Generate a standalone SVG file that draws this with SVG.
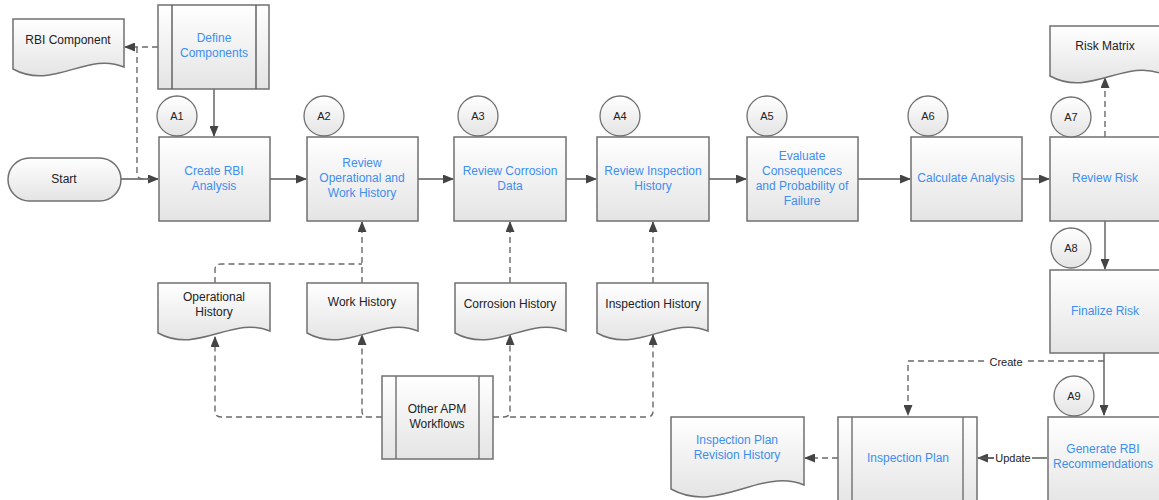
<svg xmlns="http://www.w3.org/2000/svg" width="1159" height="500" viewBox="0 0 1159 500">
<defs>
<linearGradient id="g" x1="0" y1="0" x2="0" y2="1"><stop offset="0" stop-color="#ffffff"/><stop offset="1" stop-color="#e4e4e4"/></linearGradient>
<marker id="ah" markerUnits="userSpaceOnUse" markerWidth="11" markerHeight="9" refX="10" refY="4.5" orient="auto"><path d="M0,0 L11,4.5 L0,9 z" fill="#444"/></marker>
</defs>
<style>
.s{fill:url(#g);stroke:#707070;stroke-width:1.5}
.c{fill:url(#g);stroke:#707070;stroke-width:1.3}
.t{font-family:"Liberation Sans",Arial,sans-serif;font-size:12px;text-anchor:middle;fill:#222}
.b{fill:#3d8ef0}
.ct{font-family:"Liberation Sans",Arial,sans-serif;font-size:11px;text-anchor:middle;fill:#222}
.l{fill:none;stroke:#5a5a5a;stroke-width:1.4}
.d{fill:none;stroke:#6a6a6a;stroke-width:1.4;stroke-dasharray:6,4}
.lb{font-family:"Liberation Sans",Arial,sans-serif;font-size:11px;text-anchor:middle;fill:#222}
</style>
<rect width="1159" height="500" fill="#ffffff"/>

<g id="connectors">
<path class="l" d="M121,179 H158" marker-end="url(#ah)"/>
<path class="d" d="M137,47 V173 Q137,179 143,179 H150"/>
<path class="d" d="M158,47 H125" marker-end="url(#ah)"/>
<path class="l" d="M214,89 V136" marker-end="url(#ah)"/>
<path class="l" d="M270,179 H306" marker-end="url(#ah)"/>
<path class="l" d="M418,179 H453" marker-end="url(#ah)"/>
<path class="l" d="M566,179 H596" marker-end="url(#ah)"/>
<path class="l" d="M709,179 H746" marker-end="url(#ah)"/>
<path class="l" d="M858,179 H910" marker-end="url(#ah)"/>
<path class="l" d="M1022,179 H1049" marker-end="url(#ah)"/>
<path class="d" d="M1105,137 V78" marker-end="url(#ah)"/>
<path class="l" d="M1105,221 V269" marker-end="url(#ah)"/>
<path class="l" d="M1104,353 V415" marker-end="url(#ah)"/>
<path class="d" d="M1104,361 H908 V415" marker-end="url(#ah)"/>
<path class="l" d="M1047,458 H978" marker-end="url(#ah)"/>
<path class="d" d="M838,458 H805" marker-end="url(#ah)"/>
<path class="d" d="M362,283 V222" marker-end="url(#ah)"/>
<path class="d" d="M215,283 V270 Q215,264 221,264 H362"/>
<path class="d" d="M510,283 V222" marker-end="url(#ah)"/>
<path class="d" d="M653,283 V222" marker-end="url(#ah)"/>
<path class="d" d="M382,417 H368 Q362,417 362,411 V335" marker-end="url(#ah)"/>
<path class="d" d="M362,417 H221 Q215,417 215,411 V337" marker-end="url(#ah)"/>
<path class="d" d="M493,417 H504 Q510,417 510,411 V335" marker-end="url(#ah)"/>
<path class="d" d="M510,417 H647 Q653,417 653,411 V335" marker-end="url(#ah)"/>
<rect x="988" y="355" width="36" height="13" fill="#fff"/>
<text class="lb" x="1006" y="365.5">Create</text>
<rect x="994" y="451" width="38" height="13" fill="#fff"/>
<text class="lb" x="1013" y="461.5">Update</text>
<path class="l" d="M994,458 H978"/>
</g>

<g id="start"><rect class="s" x="8" y="158" width="113" height="43" rx="21.5"/><text class="t" x="64" y="183">Start</text></g>

<g id="rbi-component"><path class="s" transform="translate(13,19)" d="M0,0 H111 V48 C74,32 40,72 0,50 Z"/><text class="t" x="68" y="44">RBI Component</text></g>

<g id="define-components"><rect class="s" x="158" y="5" width="111" height="84"/><path class="l" d="M172,5 V89 M256,5 V89" stroke="#707070"/><text class="t b" x="214" y="42">Define</text><text class="t b" x="214" y="57">Components</text></g>

<g id="create-rbi"><rect class="s" x="159" y="137" width="111" height="84"/><text class="t b" x="214" y="175">Create RBI</text><text class="t b" x="214" y="190">Analysis</text></g>
<g id="a1"><circle class="c" cx="177" cy="116" r="20"/><text class="ct" x="177" y="120">A1</text></g>

<g id="review-op"><rect class="s" x="307" y="137" width="111" height="84"/><text class="t b" x="362" y="167">Review</text><text class="t b" x="362" y="182">Operational and</text><text class="t b" x="362" y="197">Work History</text></g>
<g id="a2"><circle class="c" cx="324" cy="116" r="20"/><text class="ct" x="324" y="120">A2</text></g>

<g id="review-corrosion"><rect class="s" x="454" y="137" width="112" height="84"/><text class="t b" x="510" y="175">Review Corrosion</text><text class="t b" x="510" y="190">Data</text></g>
<g id="a3"><circle class="c" cx="478" cy="116" r="20"/><text class="ct" x="478" y="120">A3</text></g>

<g id="review-inspection"><rect class="s" x="597" y="137" width="112" height="84"/><text class="t b" x="653" y="175">Review Inspection</text><text class="t b" x="653" y="190">History</text></g>
<g id="a4"><circle class="c" cx="620" cy="116" r="20"/><text class="ct" x="620" y="120">A4</text></g>

<g id="evaluate"><rect class="s" x="747" y="137" width="111" height="84"/><text class="t b" x="802" y="160">Evaluate</text><text class="t b" x="802" y="175">Consequences</text><text class="t b" x="802" y="190">and Probability of</text><text class="t b" x="802" y="205">Failure</text></g>
<g id="a5"><circle class="c" cx="767" cy="116" r="20"/><text class="ct" x="767" y="120">A5</text></g>

<g id="calculate"><rect class="s" x="911" y="137" width="111" height="84"/><text class="t b" x="966" y="182">Calculate Analysis</text></g>
<g id="a6"><circle class="c" cx="928" cy="116" r="20"/><text class="ct" x="928" y="120">A6</text></g>

<g id="review-risk"><rect class="s" x="1050" y="137" width="112" height="84"/><text class="t b" x="1105" y="182">Review Risk</text></g>
<g id="a7"><circle class="c" cx="1071" cy="117" r="20"/><text class="ct" x="1071" y="121">A7</text></g>

<g id="risk-matrix"><path class="s" transform="translate(1050,26)" d="M0,0 H112 V48 C75,32 40,72 0,50 Z"/><text class="t" x="1105" y="50">Risk Matrix</text></g>

<g id="finalize-risk"><rect class="s" x="1050" y="270" width="112" height="83"/><text class="t b" x="1105" y="315">Finalize Risk</text></g>
<g id="a8"><circle class="c" cx="1071" cy="248" r="20"/><text class="ct" x="1071" y="252">A8</text></g>

<g id="generate-rbi"><rect class="s" x="1048" y="417" width="113" height="90"/><text class="t b" x="1103" y="453">Generate RBI</text><text class="t b" x="1103" y="468">Recommendations</text></g>
<g id="a9"><circle class="c" cx="1074" cy="396" r="20"/><text class="ct" x="1074" y="400">A9</text></g>

<g id="inspection-plan"><rect class="s" x="838" y="417" width="139" height="90"/><path d="M852,417 V507 M963,417 V507" stroke="#707070" stroke-width="1.4"/><text class="t b" x="908" y="462">Inspection Plan</text></g>

<g id="iprh"><path class="s" transform="translate(671,417)" d="M0,0 H133 V68 C89,50 47,98 0,72 Z"/><text class="t b" x="737" y="444">Inspection Plan</text><text class="t b" x="737" y="459">Revision History</text></g>

<g id="operational-history"><path class="s" transform="translate(158,283)" d="M0,0 H112 V48 C75,32 40,72 0,50 Z"/><text class="t" x="214" y="301">Operational</text><text class="t" x="214" y="316">History</text></g>
<g id="work-history"><path class="s" transform="translate(307,283)" d="M0,0 H111 V48 C74,32 40,72 0,50 Z"/><text class="t" x="362" y="306">Work History</text></g>
<g id="corrosion-history"><path class="s" transform="translate(455,283)" d="M0,0 H111 V48 C74,32 40,72 0,50 Z"/><text class="t" x="510" y="308">Corrosion History</text></g>
<g id="inspection-history"><path class="s" transform="translate(597,283)" d="M0,0 H111 V48 C74,32 40,72 0,50 Z"/><text class="t" x="653" y="308">Inspection History</text></g>

<g id="other-apm"><rect class="s" x="382" y="376" width="111" height="83"/><path d="M396,376 V459 M479,376 V459" stroke="#707070" stroke-width="1.4"/><text class="t" x="437" y="413">Other APM</text><text class="t" x="437" y="428">Workflows</text></g>
</svg>
